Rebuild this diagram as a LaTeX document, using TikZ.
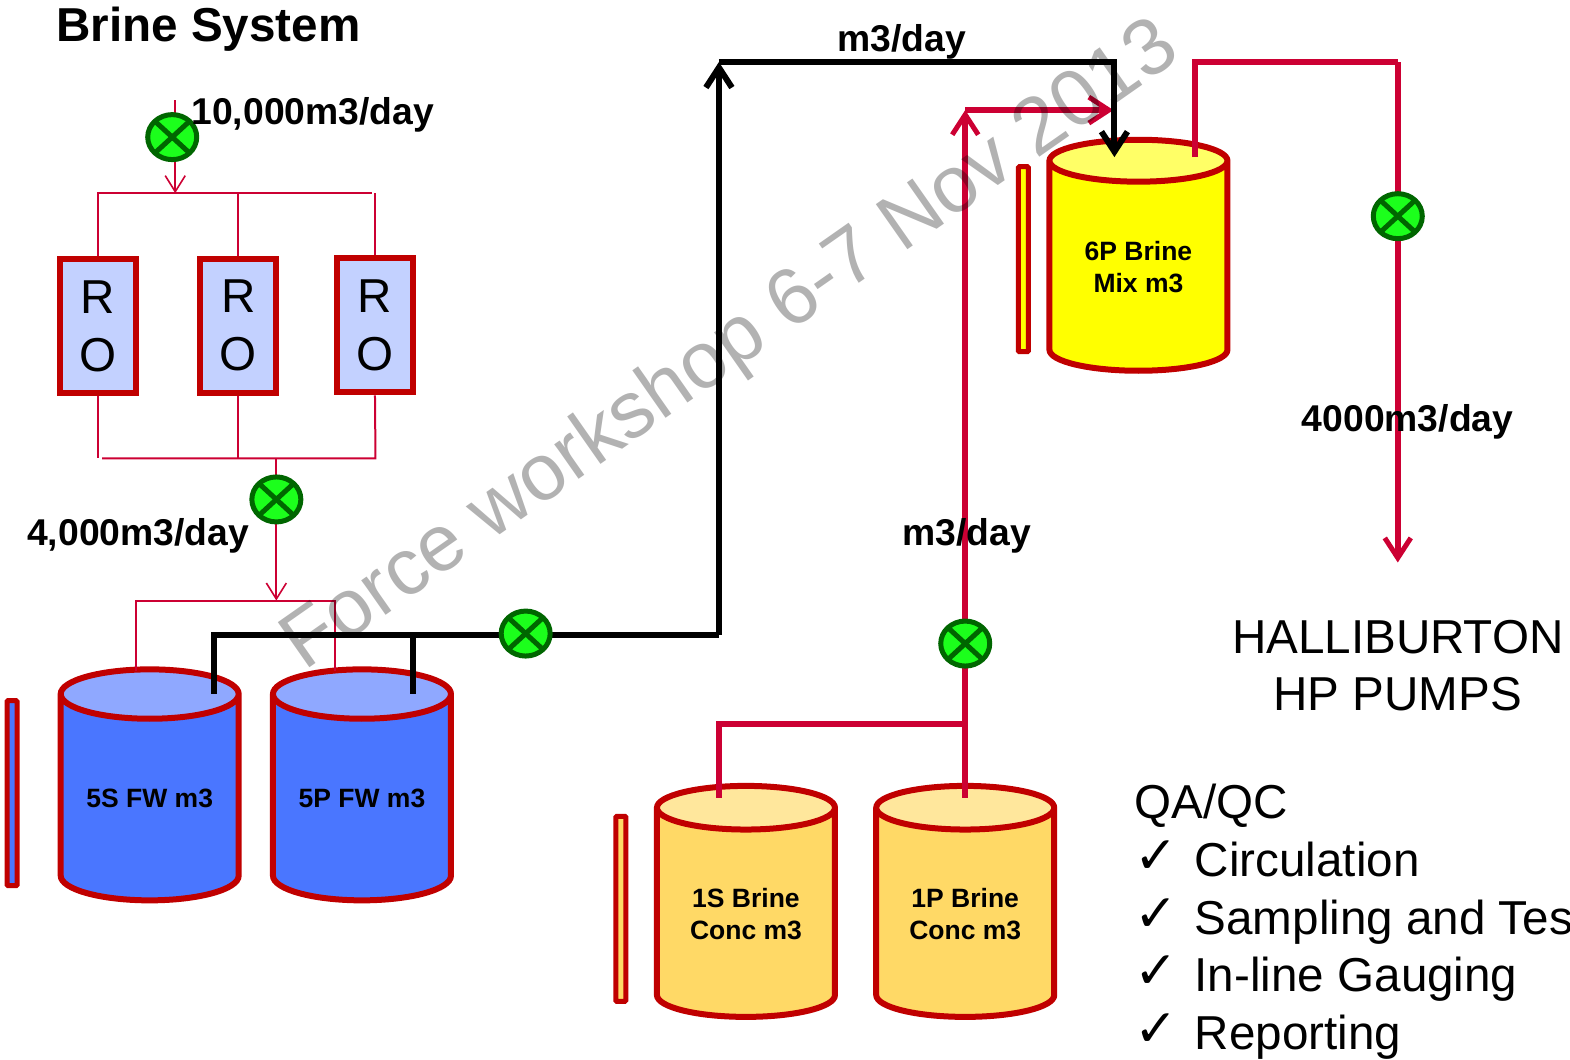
\documentclass[tikz,border=0pt]{standalone}
\usepackage{fontspec}
\setmainfont{Liberation Sans}
\newfontfamily\checkfont{DejaVu Sans}
\usepackage{xcolor}
\usepackage{tikz}
\usetikzlibrary{shapes.geometric,arrows.meta}

\definecolor{pipered}{HTML}{CC0033}
\definecolor{tankred}{HTML}{C00000}
\definecolor{valvegreen}{HTML}{1CFF1C}
\definecolor{valvedark}{HTML}{006600}
\definecolor{robox}{HTML}{C3D1FF}
\definecolor{bluebody}{HTML}{4A76FF}
\definecolor{bluetop}{HTML}{8FA8FF}
\definecolor{orangebody}{HTML}{FFD966}
\definecolor{orangetop}{HTML}{FFE79C}
\definecolor{yellowbody}{HTML}{FFFF00}
\definecolor{yellowtop}{HTML}{FFFF66}

\tikzset{
  tank/.style={draw=tankred,line width=6pt,cylinder,shape border rotate=90,
    shape aspect=0.39,cylinder uses custom fill,minimum width=178pt,
    minimum height=231pt,inner sep=0pt,align=center,font=\bfseries\fontsize{26.5}{32}\selectfont},
  bluetank/.style={tank,cylinder body fill=bluebody,cylinder end fill=bluetop},
  orangetank/.style={tank,cylinder body fill=orangebody,cylinder end fill=orangetop},
  yellowtank/.style={tank,cylinder body fill=yellowbody,cylinder end fill=yellowtop},
  gauge/.style={draw=tankred,line width=5pt,rounded corners=1pt,minimum width=10pt,
    minimum height=185pt,inner sep=0pt},
  robox/.style={draw=tankred,fill=robox,line width=6pt,minimum width=76pt,minimum height=134pt,
    inner sep=0pt,align=center,font=\fontsize{47.6}{58}\selectfont},
  valve/.style={ellipse,draw=valvedark,fill=valvegreen,line width=5pt,minimum width=49pt,
    minimum height=45pt,inner sep=0pt,path picture={
      \draw[valvedark,line width=5pt] (path picture bounding box.north west) -- (path picture bounding box.south east);
      \draw[valvedark,line width=5pt] (path picture bounding box.north east) -- (path picture bounding box.south west);}},
  thinpipe/.style={pipered,line width=2pt},
  redpipe/.style={pipered,line width=6pt},
  blackpipe/.style={black,line width=6pt},
  thintip/.style={-{Straight Barb[length=16pt,width=20pt,line width=1.6pt]}},
  redtip/.style={-{Straight Barb[length=20pt,width=26pt,line width=5pt]}},
  blacktip/.style={-{Straight Barb[length=20pt,width=26pt,line width=6pt]}},
  flowlabel/.style={anchor=base west,inner sep=0pt,font=\bfseries\fontsize{37.3}{40}\selectfont},
  plainlabel/.style={inner sep=0pt,font=\fontsize{47.6}{58}\selectfont},
  ticklabel/.style={anchor=base west,inner sep=0pt,font=\checkfont\fontsize{52}{56}\selectfont},
  watermark/.style={inner sep=0pt,black,opacity=0.3,rotate=35,font=\fontsize{80}{90}\selectfont}
}

\begin{document}
\begin{tikzpicture}[x=1.0013pt,y=-1.0009pt]
    \useasboundingbox (0,0) rectangle (1568,1059);

    \node[bluetank] (tankFiveS) at (149.5,798) {5S FW m3};
    \node[bluetank] (tankFiveP) at (361.5,798) {5P FW m3};
    \node[orangetank] (tankOneS) at (745,913) {1S Brine\\Conc m3};
    \node[orangetank] (tankOneP) at (964,913) {1P Brine\\Conc m3};
    \node[yellowtank] (tankSix) at (1137,267) {6P Brine\\Mix m3};

    \node[gauge,fill=bluebody] (gaugeFive) at (12,792.5) {};
    \node[gauge,fill=orangebody] (gaugeOne) at (620,908) {};
    \node[gauge,fill=yellowbody] (gaugeSix) at (1022,259) {};

    \node[robox] (roA) at (98,326) {R\\O};
    \node[robox] (roB) at (238,325.5) {R\\O};
    \node[robox] (roC) at (374.5,325) {R\\O};

    \coordinate (feedTop) at (175,100);
    \coordinate (feedJoin) at (175,193);
    \coordinate (topRight) at (372,193);
    \coordinate (botLeft) at (102,458);
    \coordinate (botRight) at (375,458);
    \coordinate (botJoin) at (276,458);
    \coordinate (fwJoin) at (276,600);
    \coordinate (fwLeft) at (136,600);
    \coordinate (fwRight) at (335,600);
    \coordinate (fwInS) at (136,670);
    \coordinate (fwInP) at (335,670);
    \coordinate (outLeft) at (211,634);
    \coordinate (outCorner) at (718,634);
    \coordinate (outS) at (214,693);
    \coordinate (outP) at (412,693);
    \coordinate (outTop) at (718,62);
    \coordinate (outRight) at (1113,62);
    \coordinate (outEnd) at (1113,157);
    \coordinate (concS) at (718,797);
    \coordinate (concP) at (964,797);
    \coordinate (concJoin) at (964,723);
    \coordinate (concTop) at (964,110);
    \coordinate (concEnd) at (1112,110);
    \coordinate (mixOut) at (1193,157);
    \coordinate (mixTop) at (1193,62);
    \coordinate (mixRight) at (1396,62);
    \coordinate (pumpEnd) at (1396,562);

    \draw[thinpipe,thintip] (feedTop) -- (feedJoin);
    \draw[thinpipe] (roA.north) |- (topRight);
    \draw[thinpipe] (roB.north) -- (roB.north |- topRight);
    \draw[thinpipe] (roC.north) -- (roC.north |- topRight);
    \draw[thinpipe] (roA.south) -- (roA.south |- botLeft);
    \draw[thinpipe] (botLeft) -- (botRight) -- (roC.south);
    \draw[thinpipe] (roB.south) -- (roB.south |- botLeft);
    \draw[thinpipe,thintip] (botJoin) -- (fwJoin);
    \draw[thinpipe] (fwInS) |- (fwRight) -- (fwInP);

    \draw[redpipe] (concS) |- (concJoin);
    \draw[redpipe,redtip] (concP) -- (concTop);
    \draw[redpipe,redtip] (concTop) -- (concEnd);
    \draw[redpipe] (mixOut) |- (mixRight);
    \draw[redpipe,redtip] (mixRight) -- (pumpEnd);

    \draw[blackpipe] (outLeft) -- (outCorner);
    \draw[blackpipe,blacktip] (outCorner) -- (outTop);
    \draw[blackpipe,blacktip] (outTop) -| (outEnd);
    \draw[blackpipe] (outS) -- (outS |- outLeft);
    \draw[blackpipe] (outP) -- (outP |- outLeft);

    \node[valve] (valveFeed) at (172,137) {};
    \node[valve] (valveRo) at (276,499) {};
    \node[valve] (valveFw) at (525,633) {};
    \node[valve] (valveConc) at (964,643) {};
    \node[valve] (valveMix) at (1396,216) {};

    \node[anchor=base west,inner sep=0pt,font=\bfseries\fontsize{47.6}{50}\selectfont] (title) at (56,41) {Brine System};
    \node[flowlabel] (flowFeed) at (191,124) {10,000m3/day};
    \node[flowlabel] (flowRo) at (27,545) {4,000m3/day};
    \node[flowlabel] (flowFw) at (836,51) {m3/day};
    \node[flowlabel] (flowConc) at (901,545) {m3/day};
    \node[flowlabel] (flowMix) at (1300,431) {4000m3/day};

    \node[plainlabel,anchor=base] (pumpA) at (1396,653) {HALLIBURTON};
    \node[plainlabel,anchor=base] (pumpB) at (1396,710) {HP PUMPS};

    \node[plainlabel,anchor=base west] (qaHead) at (1133,818) {QA/QC};
    \node[plainlabel,anchor=base west] (qaOne) at (1193,876) {Circulation};
    \node[plainlabel,anchor=base west] (qaTwo) at (1193,934) {Sampling and Tes};
    \node[plainlabel,anchor=base west] (qaThree) at (1193,991) {In-line Gauging};
    \node[plainlabel,anchor=base west] (qaFour) at (1193,1049) {Reporting};
    \node[ticklabel] (tickOne) at (1133,873) {✓};
    \node[ticklabel] (tickTwo) at (1133,931) {✓};
    \node[ticklabel] (tickThree) at (1133,988) {✓};
    \node[ticklabel] (tickFour) at (1133,1046) {✓};

    \node[watermark] (stamp) at (731,347) {Force workshop 6-7 Nov 2013};
\end{tikzpicture}
\end{document}
